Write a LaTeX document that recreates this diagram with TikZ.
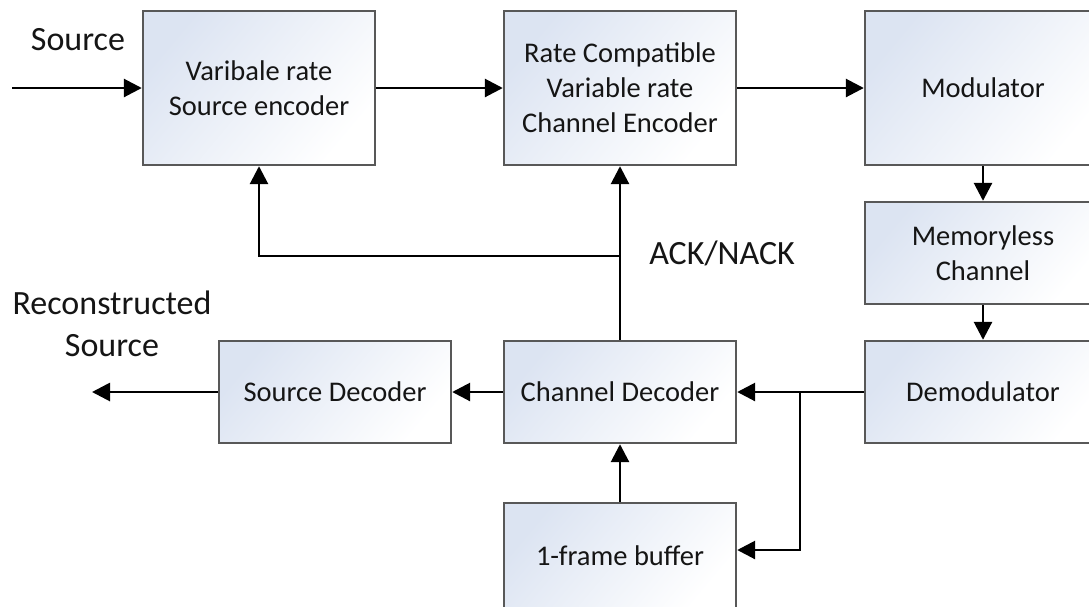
\documentclass[tikz,border=0pt]{standalone}
\usepackage{fontspec}
\setmainfont{Carlito}
\usetikzlibrary{arrows.meta}
\definecolor{boxtint}{HTML}{DCE4F2}
\definecolor{boxline}{HTML}{585858}
\definecolor{ink}{HTML}{151515}
\tikzset{
  block/.style={draw=boxline, line width=2.4pt, rectangle, align=center,
    text=ink, font=\fontsize{28.5}{35}\selectfont,
    top color=boxtint, middle color=white, bottom color=white,
    shading angle=50, inner sep=0pt},
  flow/.style={line width=2.8pt, -{Triangle[length=18pt,width=18pt]}},
  caption/.style={text=ink, font=\fontsize{34}{42}\selectfont, align=center}
}
\begin{document}
\begin{tikzpicture}[x=1pt,y=-1pt]
  \clip (0,0) rectangle (1089,606);
  \fill[white] (0,0) rectangle (1089,606);

  % transmitter chain
  \node[block, minimum width=232pt, minimum height=154pt] (senc) at (259,88)
    {Varibale rate\\Source encoder};
  \node[block, minimum width=232pt, minimum height=154pt] (cenc) at (620,88)
    {Rate Compatible\\Variable rate\\Channel Encoder};
  \node[block, minimum width=236pt, minimum height=154pt] (mod) at (983,88)
    {Modulator};
  \node[block, minimum width=236pt, minimum height=102pt] (chan) at (983,253)
    {Memoryless\\Channel};
  \node[block, minimum width=236pt, minimum height=102pt] (demod) at (983,392)
    {Demodulator};

  % receiver chain
  \node[block, minimum width=232pt, minimum height=102pt] (cdec) at (620,392)
    {Channel Decoder};
  \node[block, minimum width=232pt, minimum height=102pt] (sdec) at (335,392)
    {Source Decoder};
  \node[block, minimum width=232pt, minimum height=106pt] (buf) at (620,556)
    {1-frame buffer};

  % free ends and junctions
  \coordinate (src) at (12,88);
  \coordinate (sink) at (92,392);
  \coordinate (split) at (800,392);
  \coordinate (bufin) at (800,550);
  \coordinate (ack) at (620,256);

  % forward path
  \draw[flow] (src) -- (senc.west);
  \draw[flow] (senc.east) -- (cenc.west);
  \draw[flow] (cenc.east) -- (mod.west);
  \draw[flow] (mod.south) -- (chan.north);
  \draw[flow] (chan.south) -- (demod.north);
  \draw[flow] (demod.west) -- (cdec.east);
  \draw[flow] (split) -- (bufin) -- (bufin -| buf.east);
  \draw[flow] (buf.north) -- (cdec.south);
  \draw[flow] (cdec.west) -- (sdec.east);
  \draw[flow] (sdec.west) -- (sink);

  % feedback path
  \draw[flow] (cdec.north) -- (cenc.south);
  \draw[flow] (ack) -| (senc.south);

  % labels
  \node[caption] (srclbl) at (78,40) {Source};
  \node[caption] (acklbl) at (722,253) {ACK/NACK};
  \node[caption] (reclbl) at (112,324) {Reconstructed\\Source};
\end{tikzpicture}
\end{document}
